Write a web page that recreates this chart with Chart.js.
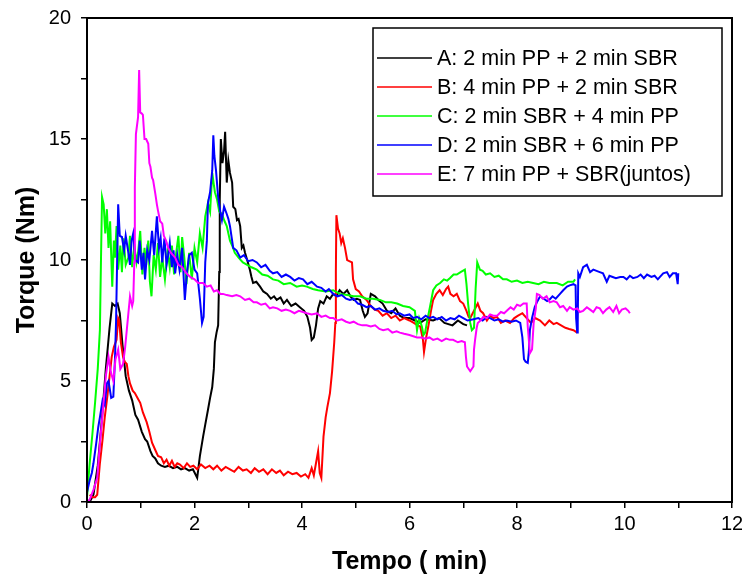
<!DOCTYPE html>
<html>
<head>
<meta charset="utf-8">
<script src="https://cdn.jsdelivr.net/npm/chart.js@4/dist/chart.umd.min.js"></script>
<style>
  html, body { margin: 0; padding: 0; background: #fff; }
  canvas { display: block; }
</style>
</head>
<body>
<canvas id="torqueChart" width="742" height="581"></canvas>
<script>
// Series labels and colours
const seriesLabels = [
  'A: 2 min PP + 2 min SBR',
  'B: 4 min PP + 2 min SBR',
  'C: 2 min SBR + 4 min PP',
  'D: 2 min SBR + 6 min PP',
  'E: 7 min PP + SBR(juntos)'
];
const seriesColors = ['#000000', '#ff0000', '#00ff00', '#0000ff', '#ff00ff'];

// Tick values
const xTicks = [0, 2, 4, 6, 8, 10, 12];
const yTicks = [0, 5, 10, 15, 20];

// [tempo (min), torque (Nm)]
const serieA = [[0.05,0],[0.12,0.3],[0.2,1.5],[0.28,3.5],[0.35,5.5],[0.42,7.2],[0.47,8.2],[0.52,8.1],[0.57,8.2],[0.61,7.8],[0.66,6.5],[0.72,5.2],[0.78,4.6],[0.84,4.2],[0.9,3.6],[0.95,3.4],[1.02,2.9],[1.08,2.6],[1.12,2.5],[1.18,2.1],[1.22,1.9],[1.27,1.8],[1.32,1.6],[1.38,1.5],[1.45,1.45],[1.52,1.5],[1.6,1.4],[1.68,1.45],[1.75,1.35],[1.82,1.4],[1.9,1.3],[1.97,1.35],[2.05,1.0],[2.1,1.9],[2.16,2.7],[2.2,3.2],[2.25,3.8],[2.29,4.3],[2.33,4.75],[2.36,5.5],[2.38,6.6],[2.41,7.0],[2.44,7.3],[2.46,9.5],[2.47,12.5],[2.49,15.0],[2.52,14.0],[2.55,14.5],[2.57,15.3],[2.6,13.2],[2.63,14.1],[2.66,13.6],[2.7,13.2],[2.72,12.2],[2.76,12.1],[2.79,11.65],[2.82,11.7],[2.85,11.4],[2.88,10.5],[2.91,10.6],[2.94,10.3],[2.98,10.0],[3.03,9.6],[3.06,9.3],[3.09,9.05],[3.15,9.1],[3.22,8.9],[3.28,8.7],[3.35,8.6],[3.42,8.4],[3.48,8.5],[3.53,8.35],[3.6,8.45],[3.66,8.2],[3.72,8.35],[3.8,8.1],[3.88,8.2],[3.96,8.05],[4.04,7.9],[4.1,7.65],[4.15,7.2],[4.18,6.7],[4.22,6.8],[4.26,7.3],[4.3,8.0],[4.34,8.3],[4.4,8.2],[4.46,8.5],[4.52,8.4],[4.58,8.6],[4.64,8.5],[4.7,8.75],[4.77,8.6],[4.84,8.75],[4.9,8.5],[4.96,8.35],[5.02,8.4],[5.08,8.35],[5.13,7.9],[5.17,7.65],[5.22,7.8],[5.28,8.6],[5.36,8.5],[5.42,8.35],[5.5,8.2],[5.58,7.9],[5.66,7.8],[5.74,8.0],[5.82,7.7],[5.9,7.6],[6.0,7.6],[6.1,7.5],[6.2,7.4],[6.3,7.55],[6.44,7.5],[6.55,7.6],[6.65,7.4],[6.8,7.3],[6.9,7.5],[7.0,7.35],[7.07,7.3]];

const serieB = [[0.05,0.3],[0.1,0.2],[0.15,0.2],[0.19,0.3],[0.24,1.6],[0.29,2.6],[0.33,3.5],[0.38,4.4],[0.42,5.2],[0.46,6.0],[0.5,6.4],[0.55,6.7],[0.58,7.6],[0.6,7.5],[0.63,6.6],[0.67,6.0],[0.7,5.8],[0.74,5.7],[0.77,5.2],[0.8,4.9],[0.85,4.6],[0.89,4.5],[0.94,4.3],[0.99,4.1],[1.04,3.7],[1.11,3.3],[1.16,2.9],[1.21,2.45],[1.26,2.2],[1.32,1.9],[1.38,1.85],[1.43,1.6],[1.48,1.75],[1.53,1.5],[1.58,1.7],[1.63,1.45],[1.68,1.6],[1.73,1.55],[1.8,1.4],[1.86,1.6],[1.92,1.45],[1.98,1.5],[2.05,1.35],[2.12,1.55],[2.2,1.4],[2.28,1.5],[2.35,1.35],[2.42,1.5],[2.5,1.3],[2.58,1.45],[2.66,1.35],[2.74,1.25],[2.82,1.45],[2.9,1.3],[2.97,1.35],[3.05,1.2],[3.12,1.4],[3.2,1.25],[3.28,1.35],[3.36,1.15],[3.44,1.35],[3.52,1.2],[3.59,1.3],[3.66,1.1],[3.74,1.25],[3.82,1.15],[3.9,1.2],[3.98,1.05],[4.06,1.15],[4.12,1.0],[4.18,1.4],[4.22,1.1],[4.26,1.6],[4.3,2.1],[4.33,1.2],[4.36,1.0],[4.4,2.7],[4.44,3.5],[4.47,3.9],[4.52,4.5],[4.56,5.4],[4.6,6.6],[4.62,7.4],[4.63,9.5],[4.64,11.85],[4.67,11.3],[4.7,11.1],[4.73,10.7],[4.76,10.9],[4.8,10.5],[4.84,10.0],[4.88,9.95],[4.93,9.9],[4.95,9.2],[5.0,8.8],[5.06,8.7],[5.12,8.5],[5.2,8.35],[5.28,8.1],[5.35,7.95],[5.42,7.9],[5.5,7.7],[5.58,7.8],[5.66,7.6],[5.74,7.7],[5.82,7.5],[5.9,7.6],[6.0,7.5],[6.08,7.4],[6.15,7.3],[6.2,7.25],[6.25,6.7],[6.27,6.2],[6.31,6.8],[6.35,7.25],[6.4,7.9],[6.44,8.35],[6.5,8.6],[6.56,8.75],[6.62,8.55],[6.68,8.8],[6.72,8.9],[6.76,8.6],[6.82,8.5],[6.88,8.6],[6.94,8.3],[7.0,8.2],[7.06,7.9],[7.1,7.65],[7.13,7.6],[7.2,7.9],[7.27,8.2],[7.32,7.9],[7.37,7.8],[7.44,7.5],[7.5,7.7],[7.56,7.6],[7.63,7.65],[7.7,7.4],[7.78,7.5],[7.87,7.4],[7.95,7.6],[8.02,7.7],[8.1,7.8],[8.18,7.6],[8.26,7.4],[8.34,7.6],[8.43,7.5],[8.52,7.3],[8.6,7.5],[8.68,7.35],[8.74,7.4],[8.82,7.3],[8.9,7.2],[8.97,7.15],[9.05,7.1],[9.12,7.0]];

const serieC = [[0.0,0.2],[0.05,1.6],[0.1,2.8],[0.15,4.1],[0.2,5.5],[0.24,7.1],[0.26,10.0],[0.28,12.6],[0.31,12.3],[0.34,11.1],[0.37,12.1],[0.4,10.5],[0.43,11.6],[0.47,8.9],[0.5,10.8],[0.52,10.1],[0.55,11.4],[0.58,9.6],[0.62,10.6],[0.65,9.5],[0.68,10.9],[0.72,9.8],[0.77,10.1],[0.8,11.0],[0.84,9.7],[0.88,10.6],[0.92,9.9],[0.95,10.3],[0.99,11.2],[1.03,9.4],[1.07,10.5],[1.1,9.8],[1.14,10.8],[1.17,9.1],[1.2,8.5],[1.24,10.2],[1.28,9.6],[1.32,10.7],[1.36,9.3],[1.4,10.1],[1.45,9.2],[1.5,10.4],[1.54,9.7],[1.58,10.6],[1.62,9.4],[1.66,10.3],[1.7,11.0],[1.74,9.5],[1.77,10.95],[1.81,10.1],[1.85,9.0],[1.9,10.3],[1.95,9.2],[2.0,10.5],[2.05,9.9],[2.1,11.1],[2.15,10.5],[2.2,11.8],[2.25,12.35],[2.29,12.0],[2.33,13.6],[2.36,13.1],[2.38,12.8],[2.42,12.5],[2.46,12.0],[2.51,11.9],[2.56,11.6],[2.6,11.4],[2.66,10.8],[2.7,10.6],[2.75,10.3],[2.82,10.1],[2.9,9.9],[2.98,9.8],[3.06,9.7],[3.16,9.6],[3.26,9.4],[3.36,9.35],[3.46,9.2],[3.56,9.15],[3.66,9.0],[3.78,9.05],[3.9,8.9],[4.0,8.95],[4.09,8.9],[4.2,8.8],[4.3,8.75],[4.44,8.7],[4.58,8.75],[4.7,8.6],[4.84,8.55],[4.96,8.5],[5.08,8.5],[5.2,8.4],[5.32,8.4],[5.45,8.35],[5.56,8.25],[5.66,8.25],[5.77,8.2],[5.88,8.1],[6.0,8.05],[6.1,7.9],[6.14,7.1],[6.18,7.6],[6.23,7.25],[6.26,6.9],[6.29,7.0],[6.33,7.5],[6.38,8.05],[6.44,8.75],[6.5,8.95],[6.57,9.05],[6.64,9.2],[6.7,9.15],[6.75,9.25],[6.82,9.4],[6.88,9.4],[6.95,9.5],[7.03,9.6],[7.06,9.0],[7.09,8.2],[7.13,7.4],[7.16,7.1],[7.2,7.2],[7.23,8.8],[7.26,9.9],[7.31,9.6],[7.36,9.55],[7.42,9.4],[7.5,9.45],[7.58,9.3],[7.66,9.35],[7.74,9.2],[7.81,9.2],[7.9,9.1],[8.0,9.15],[8.1,9.05],[8.2,9.1],[8.3,9.05],[8.4,9.0],[8.5,9.1],[8.6,9.05],[8.74,9.05],[8.85,8.95],[8.95,9.1],[9.05,9.1],[9.08,9.2]];

const serieD = [[0.0,0.4],[0.05,0.9],[0.09,1.2],[0.12,1.6],[0.17,2.4],[0.21,3.1],[0.24,3.5],[0.29,4.2],[0.33,4.0],[0.37,4.9],[0.4,5.0],[0.45,4.3],[0.49,4.35],[0.52,5.9],[0.54,7.4],[0.56,9.9],[0.58,12.3],[0.61,11.0],[0.65,10.95],[0.69,10.4],[0.72,11.0],[0.77,10.3],[0.8,9.8],[0.83,10.8],[0.86,11.1],[0.9,10.0],[0.95,9.9],[0.98,10.8],[1.02,9.6],[1.05,10.3],[1.08,9.2],[1.12,10.4],[1.16,10.0],[1.21,11.2],[1.25,10.2],[1.3,11.8],[1.34,10.5],[1.37,10.9],[1.4,9.9],[1.44,10.9],[1.48,9.8],[1.51,10.2],[1.54,10.7],[1.58,9.7],[1.61,10.4],[1.64,9.45],[1.68,10.2],[1.72,9.6],[1.77,10.5],[1.82,8.35],[1.86,9.5],[1.9,10.2],[1.95,10.3],[2.0,9.6],[2.05,9.45],[2.1,8.4],[2.14,7.4],[2.17,7.65],[2.2,9.9],[2.23,10.8],[2.25,12.35],[2.29,12.8],[2.33,13.7],[2.35,15.15],[2.37,14.3],[2.4,13.7],[2.44,12.6],[2.48,12.0],[2.51,11.65],[2.55,12.2],[2.6,11.9],[2.63,11.7],[2.66,11.4],[2.7,10.8],[2.72,10.5],[2.78,10.4],[2.85,10.1],[2.92,10.2],[3.0,9.95],[3.08,10.0],[3.16,9.9],[3.24,9.7],[3.32,9.8],[3.4,9.55],[3.46,9.45],[3.54,9.5],[3.62,9.3],[3.7,9.4],[3.78,9.3],[3.86,9.15],[3.94,9.25],[4.02,9.2],[4.1,9.0],[4.18,9.1],[4.28,8.9],[4.36,8.85],[4.44,8.7],[4.5,8.8],[4.58,8.6],[4.66,8.5],[4.74,8.55],[4.82,8.4],[4.89,8.35],[4.96,8.4],[5.04,8.2],[5.12,8.15],[5.2,8.05],[5.28,8.1],[5.36,7.95],[5.44,8.0],[5.51,7.9],[5.6,7.85],[5.68,7.9],[5.76,7.75],[5.82,7.8],[5.9,7.7],[6.0,7.75],[6.07,7.6],[6.14,7.65],[6.22,7.55],[6.3,7.7],[6.37,7.6],[6.44,7.65],[6.52,7.55],[6.6,7.65],[6.68,7.5],[6.76,7.6],[6.84,7.55],[6.92,7.7],[7.0,7.6],[7.08,7.5],[7.19,7.55],[7.28,7.6],[7.36,7.5],[7.44,7.65],[7.5,7.6],[7.58,7.5],[7.66,7.55],[7.74,7.45],[7.81,7.5],[7.9,7.45],[7.98,7.5],[8.06,7.4],[8.1,6.8],[8.13,5.9],[8.16,5.8],[8.2,5.75],[8.22,6.2],[8.24,7.1],[8.28,7.6],[8.33,8.05],[8.38,8.3],[8.43,8.5],[8.5,8.4],[8.56,8.3],[8.6,8.35],[8.66,8.5],[8.72,8.4],[8.8,8.6],[8.86,8.75],[8.93,8.9],[8.98,8.95],[9.05,9.0],[9.09,8.95],[9.1,7.6],[9.12,7.0],[9.13,7.4],[9.14,9.45],[9.17,9.3],[9.23,9.7],[9.3,9.8],[9.36,9.5],[9.42,9.6],[9.48,9.55],[9.54,9.5],[9.6,9.45],[9.67,9.1],[9.72,9.35],[9.78,9.3],[9.84,9.25],[9.92,9.3],[9.98,9.3],[10.04,9.2],[10.1,9.35],[10.16,9.25],[10.24,9.3],[10.3,9.4],[10.36,9.25],[10.42,9.4],[10.5,9.3],[10.56,9.35],[10.62,9.2],[10.66,9.3],[10.72,9.45],[10.79,9.5],[10.84,9.3],[10.9,9.45],[10.96,9.45],[10.99,9.0],[11.0,9.45]];

const serieE = [[0.0,0.0],[0.05,0.1],[0.12,0.5],[0.19,1.0],[0.24,2.4],[0.3,3.9],[0.35,5.2],[0.4,6.0],[0.44,5.4],[0.49,5.0],[0.53,5.9],[0.58,6.3],[0.62,5.5],[0.67,5.7],[0.71,6.4],[0.74,7.1],[0.8,8.5],[0.84,8.1],[0.86,8.3],[0.88,9.9],[0.89,13.0],[0.91,15.2],[0.95,15.9],[0.97,17.85],[0.99,16.1],[1.02,16.05],[1.04,16.0],[1.07,15.0],[1.1,15.0],[1.14,14.8],[1.16,14.0],[1.18,13.85],[1.21,13.4],[1.23,13.3],[1.27,12.75],[1.3,12.3],[1.32,12.05],[1.36,11.6],[1.4,11.5],[1.43,11.0],[1.47,10.8],[1.51,10.5],[1.56,10.3],[1.6,10.2],[1.64,10.1],[1.7,9.8],[1.77,9.7],[1.85,9.45],[1.92,9.3],[2.0,9.2],[2.07,9.05],[2.16,9.05],[2.23,8.9],[2.3,8.95],[2.36,8.7],[2.42,8.75],[2.48,8.6],[2.53,8.6],[2.6,8.55],[2.7,8.5],[2.78,8.55],[2.85,8.5],[2.94,8.35],[3.02,8.4],[3.1,8.25],[3.16,8.25],[3.24,8.15],[3.32,8.2],[3.4,8.0],[3.46,8.05],[3.54,8.0],[3.62,7.9],[3.7,7.95],[3.78,7.9],[3.86,7.8],[3.94,7.9],[4.02,7.85],[4.09,7.8],[4.18,7.75],[4.28,7.8],[4.36,7.65],[4.44,7.7],[4.52,7.6],[4.58,7.6],[4.66,7.5],[4.74,7.55],[4.82,7.45],[4.89,7.4],[4.96,7.45],[5.04,7.35],[5.12,7.3],[5.2,7.3],[5.28,7.25],[5.36,7.3],[5.44,7.15],[5.51,7.1],[5.6,7.15],[5.68,7.0],[5.76,7.05],[5.82,7.0],[5.9,6.95],[6.0,6.9],[6.07,6.85],[6.14,6.8],[6.22,6.8],[6.3,6.75],[6.37,6.8],[6.44,6.7],[6.52,6.75],[6.6,6.65],[6.68,6.75],[6.75,6.7],[6.81,6.7],[6.9,6.6],[6.97,6.65],[7.03,6.6],[7.05,6.0],[7.07,5.6],[7.13,5.4],[7.19,5.6],[7.2,6.3],[7.22,6.7],[7.25,7.2],[7.27,7.4],[7.32,7.5],[7.37,7.65],[7.44,7.6],[7.5,7.75],[7.56,7.7],[7.63,7.7],[7.7,7.85],[7.76,7.8],[7.81,7.9],[7.88,8.05],[7.94,7.95],[8.0,8.15],[8.06,8.1],[8.12,8.2],[8.18,8.2],[8.2,7.25],[8.24,6.15],[8.28,6.3],[8.31,7.4],[8.35,8.0],[8.37,8.6],[8.42,8.55],[8.48,8.4],[8.55,8.5],[8.61,8.25],[8.68,8.3],[8.74,8.25],[8.8,8.05],[8.86,8.1],[8.93,7.9],[8.98,8.05],[9.05,7.95],[9.12,8.0],[9.17,7.85],[9.23,7.9],[9.3,8.05],[9.36,7.95],[9.42,7.85],[9.48,8.05],[9.54,8.0],[9.6,7.8],[9.66,7.95],[9.72,8.05],[9.79,7.85],[9.85,8.1],[9.9,7.8],[9.95,7.95],[10.02,8.0],[10.07,7.9],[10.1,7.8]];

const allSeries = [serieA, serieB, serieC, serieD, serieE];

// frame round the plot area + legend box inside it
const framePlugin = {
  id: 'frame',
  afterDraw(chart) {
    const {ctx, chartArea: a} = chart;
    ctx.save();
    ctx.strokeStyle = '#000';
    ctx.lineWidth = 2;
    ctx.strokeRect(a.left, a.top, a.right - a.left, a.bottom - a.top);

    // legend
    const bx = 373, by = 28, bw = 349, bh = 168;
    ctx.fillStyle = '#fff';
    ctx.fillRect(bx, by, bw, bh);
    ctx.lineWidth = 1.5;
    ctx.strokeRect(bx, by, bw, bh);
    ctx.font = '21.5px "Liberation Sans", Arial, sans-serif';
    ctx.textBaseline = 'middle';
    ctx.textAlign = 'left';
    seriesLabels.forEach((label, i) => {
      const y = 58 + i * 29;
      ctx.strokeStyle = seriesColors[i];
      ctx.lineWidth = 1.5;
      ctx.beginPath();
      ctx.moveTo(377, y);
      ctx.lineTo(432, y);
      ctx.stroke();
      ctx.fillStyle = '#000';
      ctx.fillText(label, 437, y + 1);
    });
    ctx.restore();
  }
};

const ctx = document.getElementById('torqueChart').getContext('2d');

const datasets = allSeries.map((pts, i) => ({
  label: seriesLabels[i],
  data: pts,
  borderColor: seriesColors[i],
  backgroundColor: seriesColors[i],
  borderWidth: 2,
  pointRadius: 0,
  tension: 0,
  fill: false,
  order: 5 - i
}));

const tickFont = { family: '"Liberation Sans", Arial, sans-serif', size: 20 };
const titleFont = { family: '"Liberation Sans", Arial, sans-serif', size: 25, weight: 'bold' };

new Chart(ctx, {
  type: 'line',
  data: { datasets },
  options: {
    responsive: false,
    animation: false,
    devicePixelRatio: 1,
    layout: { padding: { top: 18, right: 10, left: 0, bottom: 0 } },
    plugins: {
      legend: { display: false },
      tooltip: { enabled: false }
    },
    scales: {
      x: {
        type: 'linear',
        min: xTicks[0],
        max: xTicks[xTicks.length - 1],
        afterFit: (s) => { s.height = 79; s.paddingLeft = 0; s.paddingRight = 0; },
        ticks: {
          stepSize: 1,
          color: '#000',
          font: tickFont,
          padding: 4,
          maxRotation: 0,
          callback: (v) => (xTicks.includes(v) ? v : '')
        },
        grid: { drawOnChartArea: false, drawTicks: true, tickLength: 6, color: '#000', lineWidth: 1.5 },
        border: { display: true, color: '#000', width: 2 },
        title: { display: true, text: 'Tempo ( min)', color: '#000', font: titleFont, padding: { top: 4, bottom: 4 } }
      },
      y: {
        type: 'linear',
        min: yTicks[0],
        max: yTicks[yTicks.length - 1],
        afterFit: (s) => { s.width = 87; s.paddingTop = 0; s.paddingBottom = 0; },
        ticks: {
          stepSize: 2.5,
          color: '#000',
          font: tickFont,
          padding: 10,
          callback: (v) => (yTicks.includes(v) ? v : '')
        },
        grid: { drawOnChartArea: false, drawTicks: true, tickLength: 6, color: '#000', lineWidth: 1.5 },
        border: { display: true, color: '#000', width: 2 },
        title: { display: true, text: 'Torque (Nm)', color: '#000', font: titleFont, padding: { top: 12, bottom: 4 } }
      }
    }
  },
  plugins: [framePlugin]
});
</script>
</body>
</html>
